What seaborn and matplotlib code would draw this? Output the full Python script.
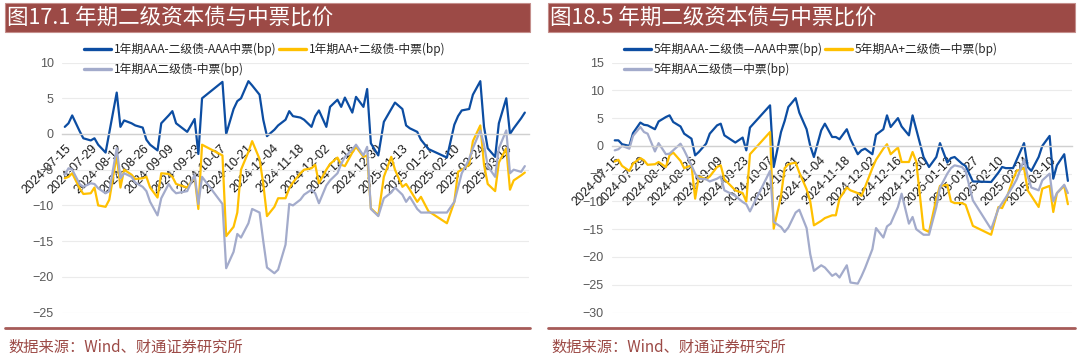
import numpy as np
import pandas as pd
import matplotlib
matplotlib.use("Agg")
import matplotlib.pyplot as plt
import matplotlib.dates as mdates
from matplotlib.lines import Line2D
from matplotlib.patches import Rectangle
import seaborn as sns

# trading sessions (every second one), market holidays removed
holidays = ["2024-09-16", "2024-09-17", "2024-10-01", "2024-10-02", "2024-10-03",
            "2024-10-04", "2024-10-07", "2025-01-01", "2025-01-28", "2025-01-29",
            "2025-01-30", "2025-01-31", "2025-02-03", "2025-02-04"]
sessions = pd.bdate_range("2024-07-15", "2025-03-21")
sessions = sessions[~sessions.isin(pd.to_datetime(holidays))]
dates = sessions[::2]

tick_dates = pd.date_range("2024-07-15", "2025-03-10", freq="14D")

# ---- left panel: 1Y ----
left_title = "图17.1 年期二级资本债与中票比价"
left_labels = ["1年期AAA-二级债-AAA中票(bp)", "1年期AA+二级债-中票(bp)", "1年期AA二级债-中票(bp)"]

y1_aaa = [1.0, 1.5, 2.6, 0.4, -0.6, -0.9, -0.6, -1.5, -2.6, 0.2,
          5.8, 1.0, 1.9, 1.5, 1.2, 0.9, -0.8, -1.5, -2.3, 1.5,
          2.6, 3.2, 1.5, 0.3, 2.1, -2.8, 5.0, 7.3, 0.0, 3.5,
          4.6, 5.0, 7.4, 6.8, 5.5, 2.0, -0.3, 0.6, 1.2, 2.0,
          3.2, 2.5, 2.3, 2.0, 1.0, 2.5, 3.3, 1.0, 3.8, 4.8,
          3.8, 5.1, 3.0, 5.2, 3.8, 6.3, -1.3, -3.0, 1.7, 3.5,
          4.4, 3.5, 1.2, 0.8, 0.3, -0.8, -2.1, -3.3, 1.3, 2.5,
          3.3, 3.5, 5.5, 7.4, 1.0, -2.0, -3.2, 1.5, 5.0, 0.0,
          0.8, 2.2, 3.0]
y1_aap = [-6.2, -6.0, -5.5, -7.6, -8.4, -8.3, -7.5, -10.0, -10.2, -9.2,
          -3.0, -7.5, -5.0, -5.7, -6.3, -6.2, -6.0, -7.5, -8.9, -5.5,
          -5.6, -6.0, -7.0, -7.5, -6.0, -10.5, -1.5, -3.0, -14.3, -13.0,
          -11.0, -5.0, -2.5, -1.0, -3.5, -7.0, -11.5, -10.2, -9.0, -9.0,
          -7.6, -6.8, -5.5, -5.0, -4.8, -4.3, -6.9, -5.0, -4.2, -3.3,
          -4.3, -4.5, -2.6, -1.8, -3.2, -3.0, -10.4, -11.4, -6.0, -3.2,
          -5.0, -7.4, -7.0, -7.8, -9.5, -8.8, -10.8, -12.5, -9.5, -5.3,
          -5.0, -4.3, -1.0, 1.2, -4.3, -7.0, -8.0, -4.0, -2.0, -7.8,
          -6.5, -5.8, -5.4]
y1_aa = [-5.7, -4.8, -5.0, -7.0, -7.4, -6.9, -7.0, -7.6, -8.3, -8.0,
         -2.0, -6.2, -5.5, -6.0, -6.8, -7.4, -8.0, -9.5, -11.4, -9.0,
         -7.0, -7.8, -8.3, -8.0, -5.7, -9.8, -6.0, -9.8, -18.8, -16.5,
         -14.0, -14.5, -12.5, -10.5, -11.0, -15.0, -18.7, -19.5, -19.0, -15.5,
         -9.8, -10.0, -9.2, -8.5, -7.8, -8.3, -9.7, -7.2, -6.5, -5.5,
         -4.2, -3.2, -2.2, -1.5, -3.0, -1.8, -10.5, -11.5, -9.0, -8.2,
         -7.5, -8.5, -9.5, -8.8, -10.5, -11.0, -11.0, -11.0, -9.5, -7.5,
         -5.5, -3.5, -2.0, 0.5, -1.5, -4.5, -6.0, -2.0, 0.5, -5.5,
         -5.0, -5.3, -4.5]
left_yticks = [-25, -20, -15, -10, -5, 0, 5, 10]

# ---- right panel: 5Y ----
right_title = "图18.5 年期二级资本债与中票比价"
right_labels = ["5年期AAA-二级债—AAA中票(bp)", "5年期AA+二级债—中票(bp)", "5年期AA二级债—中票(bp)"]

y5_aaa = [1.0, 1.0, 0.3, 0.0, 2.3, 4.2, 3.8, 3.7, 3.0, 4.4,
          5.2, 5.5, 4.3, 3.5, 2.2, 1.3, -1.7, -1.1, 0.4, 2.2,
          3.7, 4.0, 1.9, 0.6, 1.5, -0.8, 3.3, 7.3, -3.8, 2.5,
          4.5, 7.0, 8.6, 6.0, 3.0, 0.0, -2.0, 2.8, 4.0, 1.6,
          1.6, 1.2, 3.0, 1.2, -1.5, -0.8, -0.5, -1.5, 2.0, 3.0,
          5.5, 3.4, 5.0, 3.5, 1.9, 5.5, 3.0, -2.0, -3.8, -2.0,
          0.5, -3.0, -2.2, -2.0, -3.2, -3.6, -6.4, -6.5, -4.8, -3.8,
          -4.0, -4.0, -2.5, 0.5, -3.8, -4.5, -2.0, 0.0, 1.8, -5.9,
          -3.5, -1.5, -6.3]
y5_aap = [-2.8, -2.5, -3.6, -4.5, -3.2, -2.2, -2.6, -3.4, -3.3, -2.9,
          -3.8, -1.7, -1.2, -2.7, -4.0, -3.5, -9.5, -5.5, -6.0, -5.5,
          -3.8, -3.5, -6.0, -8.0, -8.5, -10.0, -1.5, 2.5, -14.9, -9.0,
          -4.0, -3.3, -3.0, -4.8, -7.8, -10.0, -14.3, -13.5, -13.0, -12.5,
          -12.5, -9.5, -7.5, -8.0, -8.5, -9.0, -7.4, -4.0, -2.5, -0.5,
          0.3, -1.5, -0.3, -2.9, -2.9, -1.1, -2.8, -15.0, -15.5, -9.5,
          -7.2, -7.0, -10.0, -10.3, -10.3, -10.6, -14.4, -16.0, -11.0, -11.2,
          -9.8, -6.0, -4.5, -4.0, -8.0, -9.0, -11.0, -7.7, -7.2, -11.9,
          -8.5, -7.2, -10.5]
y5_aa = [-0.8, -0.6, 0.0, -0.5, 1.8, 3.4, 2.5, 2.2, -1.0, 0.5,
         -1.5, -1.4, -0.8, 0.4, -0.8, -3.5, -5.0, -5.9, -6.0, -6.4,
         -5.9, -5.5, -8.0, -9.0, -10.1, -10.5, -11.8, -4.5, -13.7, -14.6,
         -15.5, -14.7, -12.0, -11.5, -14.8, -19.5, -22.5, -21.5, -21.9, -23.4,
         -23.0, -23.7, -21.5, -24.6, -24.8, -23.5, -22.0, -18.6, -14.8, -16.5,
         -14.5, -14.0, -11.0, -8.6, -14.0, -12.8, -15.0, -16.0, -16.0, -11.0,
         -7.5, -5.0, -4.0, -3.5, -3.8, -4.5, -9.8, -15.0, -11.3, -10.3,
         -9.3, -7.2, -6.0, -2.5, -5.5, -7.5, -8.0, -6.2, -5.0, -10.0,
         -8.5, -7.0, -8.5]
right_yticks = [-30, -25, -20, -15, -10, -5, 0, 5, 10, 15]

source_text = "数据来源：Wind、财通证券研究所"

colors = ["#0C4DA2", "#FFC000", "#A3ABCB"]
brown = "#9C4A46"
cjk = ["Noto Sans CJK SC", "DejaVu Sans"]

sns.set_theme(style="white")
plt.rcParams["font.family"] = ["Liberation Sans", "Noto Sans CJK SC", "DejaVu Sans"]
plt.rcParams["axes.unicode_minus"] = True

W, H = 1080, 358
fig = plt.figure(figsize=(W / 100, H / 100), dpi=100)


def fx(px):
    return px / W


def fy(py):
    return 1 - py / H


def draw_panel(ax, series, labels, yticks, legend_x):
    df = pd.DataFrame({"date": dates})
    for lab, vals in zip(labels, series):
        df[lab] = vals
    long = df.melt(id_vars="date", var_name="series", value_name="bp")
    sns.lineplot(data=long, x="date", y="bp", hue="series", hue_order=labels,
                 palette=dict(zip(labels, colors)), linewidth=1.6, legend=False, ax=ax)
    ax.set_xlim(pd.Timestamp("2024-07-13 12:00"), pd.Timestamp("2025-03-22 06:00"))
    ax.set_ylim(yticks[0], yticks[-1])
    ax.set_yticks(yticks)
    ax.set_xticks(tick_dates)
    ax.xaxis.set_major_formatter(mdates.DateFormatter("%Y-%m-%d"))
    ax.set_xlabel("")
    ax.set_ylabel("")
    for s in ["top", "right", "left"]:
        ax.spines[s].set_visible(False)
    ax.spines["bottom"].set_position(("data", 0))
    ax.spines["bottom"].set_color("#D0D0D0")
    ax.spines["bottom"].set_linewidth(1.0)
    ax.grid(axis="y", color="#EBEBEB", linewidth=0.8)
    ax.grid(axis="x", visible=False)
    ax.tick_params(axis="x", length=0, pad=6, labelsize=9, labelcolor="#1A1A1A")
    ax.tick_params(axis="y", length=0, pad=6, labelsize=9, labelcolor="#595959")
    for t in ax.get_xticklabels():
        t.set_rotation(45)
        t.set_ha("right")
        t.set_va("top")
        t.set_rotation_mode("anchor")
    handles = [Line2D([], [], color=c, lw=2.4) for c in colors]
    order = [0, 2, 1]
    leg = ax.legend([handles[i] for i in order], [labels[i] for i in order], ncol=2,
                    loc="upper left", bbox_to_anchor=(fx(legend_x), fy(43)),
                    bbox_transform=fig.transFigure, frameon=False,
                    handlelength=2.3, handletextpad=0.25, columnspacing=0.15,
                    labelspacing=0.55, borderpad=0, borderaxespad=0,
                    prop={"family": cjk, "size": 8.5})
    for t in leg.get_texts():
        t.set_color("#262626")


ax1 = fig.add_axes([fx(62), fy(312.5), fx(467), 249.9 / H])
ax2 = fig.add_axes([fx(612), fy(312.5), fx(460), 249.9 / H])
draw_panel(ax1, [y1_aaa, y1_aap, y1_aa], left_labels, left_yticks, 84)
draw_panel(ax2, [y5_aaa, y5_aap, y5_aa], right_labels, right_yticks, 624)

# title bars, bottom rules and source notes
for x0, x1, title in [(5, 530, left_title), (548, 1075, right_title)]:
    fig.patches.append(Rectangle((fx(x0), fy(32)), fx(x1 - x0), 29 / H,
                                 transform=fig.transFigure, facecolor=brown,
                                 edgecolor="#C58F8C", linewidth=0.8))
    fig.text(fx(x0 + 2), fy(17.5), title, color="white", fontsize=15.5,
             family=cjk, va="center", ha="left")
    fig.lines.append(Line2D([fx(x0), fx(x1)], [fy(328), fy(328)],
                            transform=fig.transFigure, color="#A65B58", linewidth=2))
    fig.text(fx(x0 + 3), fy(347), source_text, color=brown, fontsize=11,
             family=cjk, va="center", ha="left")

fig.savefig("out.png", dpi=100)
